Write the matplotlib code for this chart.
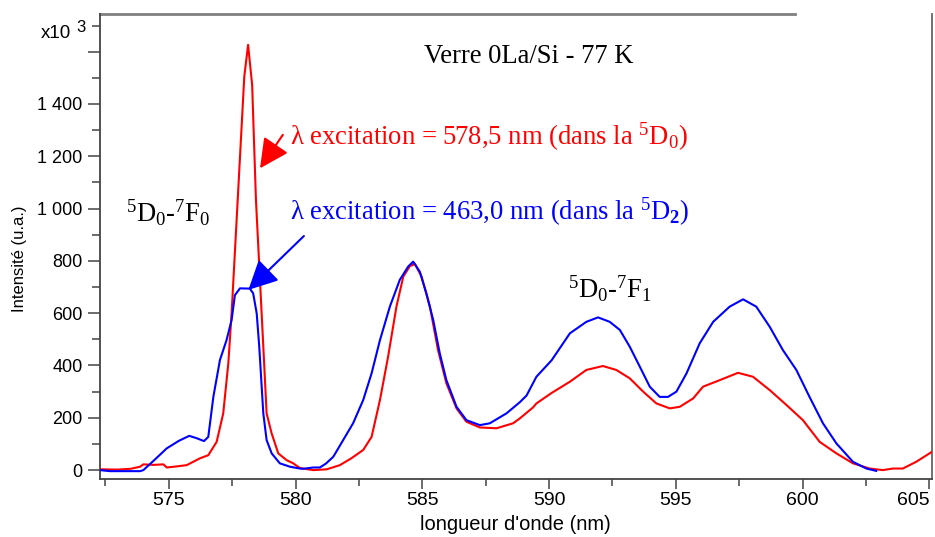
import matplotlib
matplotlib.use("Agg")
import matplotlib.pyplot as plt
from matplotlib.ticker import MultipleLocator, FixedLocator, FixedFormatter
from matplotlib.lines import Line2D

plt.rcParams['font.family'] = ['Liberation Sans', 'DejaVu Sans']
plt.rcParams['mathtext.fontset'] = 'custom'
plt.rcParams['mathtext.rm'] = 'Liberation Serif'
plt.rcParams['mathtext.it'] = 'Liberation Serif:italic'
plt.rcParams['mathtext.bf'] = 'Liberation Serif:bold'
plt.rcParams['mathtext.default'] = 'regular'

# ---------------- data ----------------
blue_wl = [572.29, 572.68, 573.87, 574.0, 574.45, 574.92, 575.4, 575.81, 576.1, 576.39,
           576.56, 576.76, 577.02, 577.28, 577.48, 577.61, 577.81, 578.2, 578.33, 578.47,
           578.57, 578.73, 578.86, 579.06, 579.38, 579.78, 580.17, 580.3, 580.7, 580.96,
           581.2, 581.49, 581.88, 582.27, 582.67, 583.0, 583.33, 583.72, 584.11, 584.44,
           584.64, 584.9, 585.16, 585.43, 585.69, 585.95, 586.35, 586.74, 587.27, 587.66,
           588.32, 588.85, 589.11, 589.5, 590.1, 590.82, 591.47, 591.93, 592.39, 592.79,
           593.18, 593.58, 593.97, 594.36, 594.69, 595.02, 595.42, 595.94, 596.47, 597.12,
           597.65, 598.17, 598.7, 599.22, 599.75, 600.27, 600.8, 601.33, 601.98, 602.51,
           602.9]
blue_int = [0, -4, -4, 0, 40, 83, 112, 131, 122, 111,
            127, 280, 421, 497, 574, 669, 695, 694, 676, 599,
            472, 217, 115, 64, 26, 13, 6, 5, 10, 10,
            25, 51, 115, 179, 268, 370, 497, 625, 727, 778,
            797, 759, 676, 574, 446, 344, 242, 191, 172, 179,
            217, 260, 285, 357, 420, 523, 567, 584, 567, 536,
            472, 395, 319, 280, 280, 300, 370, 485, 567, 625,
            653, 625, 548, 459, 383, 280, 179, 102, 32, 6,
            -3]

red_wl = [572.29, 573.0, 573.5, 573.87, 574.0, 574.4, 574.79, 574.92, 575.3, 575.71,
          576.23, 576.56, 576.89, 577.15, 577.35, 577.48, 577.72, 577.98, 578.13, 578.29,
          578.44, 578.73, 578.86, 579.06, 579.32, 579.65, 579.91, 580.17, 580.7, 581.23,
          581.75, 582.2, 582.67, 583.0, 583.33, 583.65, 583.98, 584.25, 584.51, 584.71,
          584.97, 585.3, 585.62, 585.95, 586.35, 586.74, 587.27, 587.93, 588.58, 588.85,
          589.37, 589.5, 590.1, 590.82, 591.47, 592.12, 592.65, 593.18, 593.71, 594.23,
          594.76, 595.15, 595.68, 596.07, 596.73, 597.45, 598.04, 598.7, 599.36, 600.01,
          600.67, 601.33, 601.98, 602.64, 603.16, 603.56, 603.95, 604.48, 605.1]
red_int = [3, 2, 5, 13, 22, 20, 22, 10, 14, 19,
           45, 57, 108, 217, 408, 600, 1033, 1505, 1626, 1473,
           1033, 472, 217, 140, 64, 38, 26, 8, 0, 3,
           19, 45, 77, 127, 268, 433, 625, 740, 780, 788,
           740, 625, 459, 332, 236, 185, 163, 160, 179, 198,
           240, 255, 295, 338, 383, 398, 383, 351, 300, 255,
           236, 242, 274, 319, 344, 372, 357, 306, 249, 191,
           108, 64, 26, 6, 0, 6, 6, 32, 70]

y_ticks = [0, 200, 400, 600, 800, 1000, 1200, 1400, 1600]
y_labels = ['0', '200', '400', '600', '800', '1 000', '1 200', '1 400', '']
x_ticks = [575, 580, 585, 590, 595, 600, 605]

title_txt = "Verre 0La/Si - 77 K"
red_txt = "λ excitation = 578,5 nm (dans la $^{5}$D$_{0}$)"
blue_txt = "λ excitation = 463,0 nm (dans la $^{5}$D$_{\\mathbf{2}}$)"
f0_txt = "$^{5}$D$_{0}$-$^{7}$F$_{0}$"
f1_txt = "$^{5}$D$_{0}$-$^{7}$F$_{1}$"

# ---------------- figure ----------------
W, H = 935, 537
fig = plt.figure(figsize=(W / 100, H / 100), dpi=100)
ax = fig.add_axes([100 / W, 1 - 479 / H, 832 / W, 465 / H])

ax.plot(red_wl, red_int, color='#ff0000', lw=1.5, zorder=3)
ax.plot(blue_wl, blue_int, color='#0000ff', lw=1.5, zorder=3)

ax.set_xlim(572.29, 605.1)
ax.set_ylim(-34, 1744)

ax.xaxis.set_major_locator(FixedLocator(x_ticks))
ax.xaxis.set_minor_locator(MultipleLocator(2.5))
ax.yaxis.set_major_locator(FixedLocator(y_ticks))
ax.yaxis.set_major_formatter(FixedFormatter(y_labels))
ax.yaxis.set_minor_locator(MultipleLocator(100))

tick_col = '#444444'
ax.tick_params(axis='x', which='major', direction='out', length=7.5, width=1.1,
               color=tick_col, labelsize=14, pad=2)
ax.tick_params(axis='x', which='minor', direction='out', length=5, width=1.1, color=tick_col)
ax.tick_params(axis='y', which='major', direction='out', length=8.5, width=1.1,
               color=tick_col, labelsize=13, pad=4)
ax.tick_params(axis='y', which='minor', direction='out', length=5.5, width=1.1, color=tick_col)

# keep the last x tick label inside the figure (right-aligned on its tick)
xlabels = ax.get_xticklabels()
fig.canvas.draw()
for lab in ax.get_xticklabels():
    if lab.get_text() == '605':
        lab.set_ha('right')
        lab.set_x(605.1)

for s in ['left', 'bottom']:
    ax.spines[s].set_color(tick_col)
    ax.spines[s].set_linewidth(1.3)
ax.spines['right'].set_color('#666666')
ax.spines['right'].set_linewidth(1.3)
ax.spines['top'].set_visible(False)
ax.add_line(Line2D([0, (795 - 100) / 832], [1, 1], transform=ax.transAxes,
                   color='#808080', lw=2, clip_on=False))

ax.set_xlabel("longueur d'onde (nm)", fontsize=14.5)
ax.xaxis.set_label_coords((515 - 100) / 832, -(524 - 479) / 465)
ax.xaxis.label.set_va('center')
ax.set_ylabel("Intensité (u.a.)", fontsize=12)
ax.yaxis.set_label_coords((20 - 100) / 832, (479 - 259) / 465)
ax.yaxis.label.set_va('center')

# x10^3 multiplier label
fig.text(41 / W, 1 - 38 / H, "x10", fontsize=13.5, ha='left', va='baseline')
fig.text(76 / W, 1 - 32 / H, "3", fontsize=12, ha='left', va='baseline')

serif = ['Liberation Serif', 'DejaVu Serif']
fs = 19.2
ax.text(585.06, 1557, title_txt, fontsize=fs, family=serif, color='black',
        ha='left', va='baseline')
ax.text(579.78, 1243, red_txt, fontsize=fs, family=serif, color='#ff0000',
        ha='left', va='baseline')
ax.text(579.78, 956, blue_txt, fontsize=fs, family=serif, color='#0000ff',
        ha='left', va='baseline')
ax.text(573.31, 949, f0_txt, fontsize=fs, family=serif, color='black',
        ha='left', va='baseline')
ax.text(590.74, 658, f1_txt, fontsize=fs, family=serif, color='black',
        ha='left', va='baseline')

ax.annotate("", xy=(578.60, 1154), xytext=(579.50, 1282),
            arrowprops=dict(arrowstyle='-|>,head_length=0.9,head_width=0.45',
                            color='#ff0000', lw=1.5, mutation_scale=20,
                            shrinkA=0, shrinkB=0))
ax.annotate("", xy=(578.14, 689), xytext=(580.33, 895),
            arrowprops=dict(arrowstyle='-|>,head_length=0.9,head_width=0.45',
                            color='#0000ff', lw=1.5, mutation_scale=20,
                            shrinkA=0, shrinkB=0))

fig.savefig("out.png", dpi=100)
